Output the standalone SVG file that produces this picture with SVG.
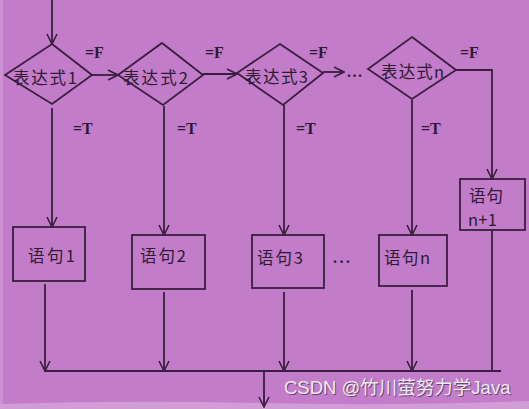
<svg xmlns="http://www.w3.org/2000/svg" width="529" height="409" viewBox="0 0 529 409">
<style>
.ln{stroke:#3a1e3e;stroke-width:1.8;fill:none}
.sh{stroke:#3a1e3e;stroke-width:1.8;fill:none}
.cj{font-family:"Noto Sans CJK SC","Liberation Serif",serif;font-size:16.5px;fill:#2e1a33}
.lb{font-family:"Liberation Serif",serif;font-weight:bold;font-size:16px;fill:#2e1a33}
.wm{font-family:"Liberation Sans","Noto Sans CJK SC",sans-serif;font-size:18.5px}
</style>
<defs>
<marker id="ar" viewBox="0 0 12 12" refX="11" refY="6" markerWidth="12" markerHeight="12" markerUnits="userSpaceOnUse" orient="auto">
<path d="M1,1 L11,6 L1,11" fill="none" stroke="#3a1e3e" stroke-width="1.6"/>
</marker>
</defs>
<rect x="0" y="0" width="529" height="409" fill="#c27cc9"/>
<rect x="0" y="0" width="3" height="409" fill="#cd90d3"/>
<path d="M0,404 Q130,400 260,403 T529,401 L529,409 L0,409 Z" fill="#d29cd7"/>

<g id="connectors">
<line class="ln" x1="52" y1="0" x2="52" y2="44" marker-end="url(#ar)"/>
<line class="ln" x1="92" y1="75" x2="118" y2="75" marker-end="url(#ar)"/>
<line class="ln" x1="203" y1="74" x2="237" y2="74" marker-end="url(#ar)"/>
<line class="ln" x1="323" y1="72" x2="344" y2="72" marker-end="url(#ar)"/>
<polyline class="ln" points="456,70 492,70 492,179" marker-end="url(#ar)"/>
<line class="ln" x1="52" y1="108" x2="52" y2="227" marker-end="url(#ar)"/>
<line class="ln" x1="164" y1="106" x2="164" y2="235" marker-end="url(#ar)"/>
<line class="ln" x1="284" y1="105" x2="284" y2="235" marker-end="url(#ar)"/>
<line class="ln" x1="412" y1="100" x2="412" y2="235" marker-end="url(#ar)"/>
<line class="ln" x1="45" y1="284" x2="45" y2="371" marker-end="url(#ar)"/>
<line class="ln" x1="164" y1="292" x2="164" y2="371" marker-end="url(#ar)"/>
<line class="ln" x1="284" y1="292" x2="284" y2="371" marker-end="url(#ar)"/>
<line class="ln" x1="412" y1="290" x2="412" y2="371" marker-end="url(#ar)"/>
<line class="ln" x1="492" y1="230" x2="492" y2="371"/>
<line class="ln" x1="44" y1="371" x2="501" y2="371"/>
<line class="ln" x1="264" y1="371" x2="264" y2="407" marker-end="url(#ar)"/>
<text class="lb" x="85" y="58">=F</text>
<text class="lb" x="205" y="58">=F</text>
<text class="lb" x="309" y="58">=F</text>
<text class="lb" x="460" y="58">=F</text>
<text class="lb" x="73" y="134">=T</text>
<text class="lb" x="177" y="134">=T</text>
<text class="lb" x="296" y="134">=T</text>
<text class="lb" x="421" y="134">=T</text>
<text class="lb" x="347" y="77" font-weight="normal" letter-spacing="1.5">...</text>
<text class="lb" x="333" y="263" font-weight="normal" letter-spacing="2.5">...</text>
</g>

<g id="d1">
<polygon class="sh" points="52,44 92,75 52,104 5,75"/>
<text class="cj" x="13" y="84" textLength="64">表达式1</text>
</g>
<g id="d2">
<polygon class="sh" points="162,43 203,75 163,105 118,75"/>
<text class="cj" x="123" y="84" textLength="65">表达式2</text>
</g>
<g id="d3">
<polygon class="sh" points="280,44 323,73 283,105 237,73"/>
<text class="cj" x="245" y="83" textLength="63">表达式3</text>
</g>
<g id="dn">
<polygon class="sh" points="412,37 456,70 412,99 368,69"/>
<text class="cj" x="381" y="78" textLength="63">表达式n</text>
</g>
<g id="b1">
<rect class="sh" x="13" y="227" width="72" height="54"/>
<text class="cj" x="28" y="262" textLength="47">语句1</text>
</g>
<g id="b2">
<rect class="sh" x="132" y="235" width="73" height="54"/>
<text class="cj" x="140" y="262" textLength="46">语句2</text>
</g>
<g id="b3">
<rect class="sh" x="252" y="235" width="72" height="53"/>
<text class="cj" x="257" y="264" textLength="46">语句3</text>
</g>
<g id="bn">
<rect class="sh" x="379" y="235" width="68" height="51"/>
<text class="cj" x="384" y="264" textLength="46">语句n</text>
</g>
<g id="bn1">
<rect class="sh" x="460" y="179" width="65" height="51"/>
<text class="cj" x="469" y="202" font-size="16" textLength="34">语句</text>
<text class="cj" x="468" y="226" font-size="12.5" textLength="29">n+1</text>
</g>
<g id="watermark">
<text class="wm" x="285" y="395" fill="#4a2b4e" opacity="0.7">CSDN @竹川萤努力学Java</text>
<text class="wm" x="284" y="394" fill="#eeeaee">CSDN @竹川萤努力学Java</text>
</g>
</svg>
